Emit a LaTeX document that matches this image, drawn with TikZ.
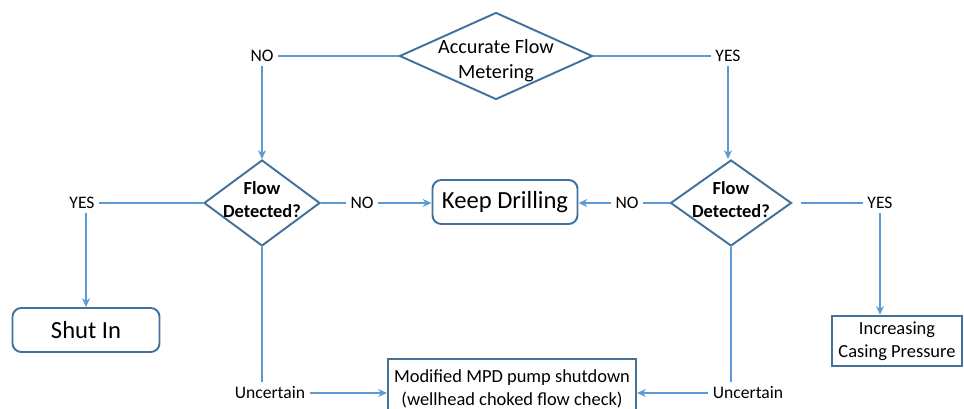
\documentclass[tikz,border=0pt]{standalone}
\usepackage{fontspec}
\setmainfont{Carlito}
\usepackage{tikz}
\usetikzlibrary{positioning,shapes.geometric,arrows.meta}
\definecolor{linie}{HTML}{5B9BD5}
\definecolor{rand}{HTML}{41719C}

\begin{document}
\begin{tikzpicture}[
    raute/.style={diamond, draw=rand, line width=1.1pt, inner sep=0pt},
    kasten/.style={rectangle, draw=rand, line width=1.1pt, align=center},
    antwort/.style={font=\fontsize{10}{12}\selectfont, inner sep=2.5pt},
    verbindung/.style={draw=linie, line width=0.9pt},
    pfeil/.style={verbindung, -{Stealth[length=5pt,width=4.5pt]}}
]

    % Rahmen
    \useasboundingbox (0,0) rectangle (19.28,8.18);

    % Entscheidungen
    \node (metering) at (9.92,7.06) [raute, minimum width=3.86cm, minimum height=1.74cm, label={[align=center, font=\fontsize{11.5}{14}\selectfont, yshift=-0.1cm]center:Accurate Flow\\Metering}] {};
    \node (flowLeft) at (5.24,4.12) [raute, minimum width=2.32cm, minimum height=1.72cm, label={[align=center, font=\fontsize{10.5}{13}\selectfont\bfseries, yshift=0.07cm]center:Flow\\Detected?}] {};
    \node (flowRight) at (14.62,4.12) [raute, minimum width=2.42cm, minimum height=1.72cm, label={[align=center, font=\fontsize{10.5}{13}\selectfont\bfseries, yshift=0.07cm]center:Flow\\Detected?}] {};

    % Antworten
    \node (noTop) at (5.24,7.06) [antwort] {NO};
    \node (yesTop) at (14.56,7.06) [antwort] {YES};
    \node (yesLeft) at (1.64,4.12) [antwort] {YES};
    \node (noLeft) at (7.24,4.12) [antwort] {NO};
    \node (noRight) at (12.54,4.12) [antwort] {NO};
    \node (yesRight) at (17.60,4.12) [antwort] {YES};
    \node (uncLeft) at (5.40,0.32) [antwort] {Uncertain};
    \node (uncRight) at (14.96,0.32) [antwort] {Uncertain};

    % Massnahmen
    \node (keepDrilling) at (10.10,4.14) [kasten, rounded corners=5pt, minimum width=2.9cm, minimum height=0.88cm, font=\fontsize{14}{16}\selectfont] {Keep Drilling};
    \node (shutIn) at (1.72,1.58) [kasten, rounded corners=5pt, minimum width=2.94cm, minimum height=0.88cm, font=\fontsize{14}{16}\selectfont] {Shut In};
    \node (casing) at (17.94,1.36) [kasten, minimum width=2.6cm, minimum height=1.0cm, font=\fontsize{10.5}{13}\selectfont] {Increasing\\Casing Pressure};
    \node (pumpShutdown) at (10.24,0.40) [kasten, minimum width=4.96cm, minimum height=1.2cm, font=\fontsize{10.5}{13}\selectfont] {Modified MPD pump shutdown\\(wellhead choked flow check)};

    % Verbindungen oben
    \draw[verbindung] (metering.west) -- (noTop.east);
    \draw[pfeil] (noTop.south) -- (flowLeft.north);
    \draw[verbindung] (metering.east) -- (yesTop.west);
    \draw[pfeil] (yesTop.south) -- (yesTop.south |- flowRight.north);

    % Verbindungen links
    \draw[verbindung] (flowLeft.west) -- (yesLeft.east);
    \draw[pfeil] (yesLeft.south -| shutIn.north) -- (shutIn.north);
    \draw[verbindung] (flowLeft.east) -- (noLeft.west);
    \draw[pfeil] (noLeft.east) -- (keepDrilling.west |- noLeft.east);
    \draw[verbindung] (flowLeft.south) -- (flowLeft.south |- uncLeft.north);
    \draw[pfeil] (uncLeft.east) -- (pumpShutdown.west |- uncLeft.east);

    % Verbindungen rechts
    \draw[verbindung] (flowRight.west) -- (noRight.east);
    \draw[pfeil] (noRight.west) -- (keepDrilling.east |- noRight.west);
    \draw[verbindung, shorten <=5pt] (flowRight.east) -- (yesRight.west);
    \draw[pfeil] (yesRight.south) -- (yesRight.south |- casing.north);
    \draw[verbindung] (flowRight.south) -- (flowRight.south |- uncRight.north);
    \draw[pfeil] (uncRight.west) -- (pumpShutdown.east |- uncRight.west);
\end{tikzpicture}
\end{document}
